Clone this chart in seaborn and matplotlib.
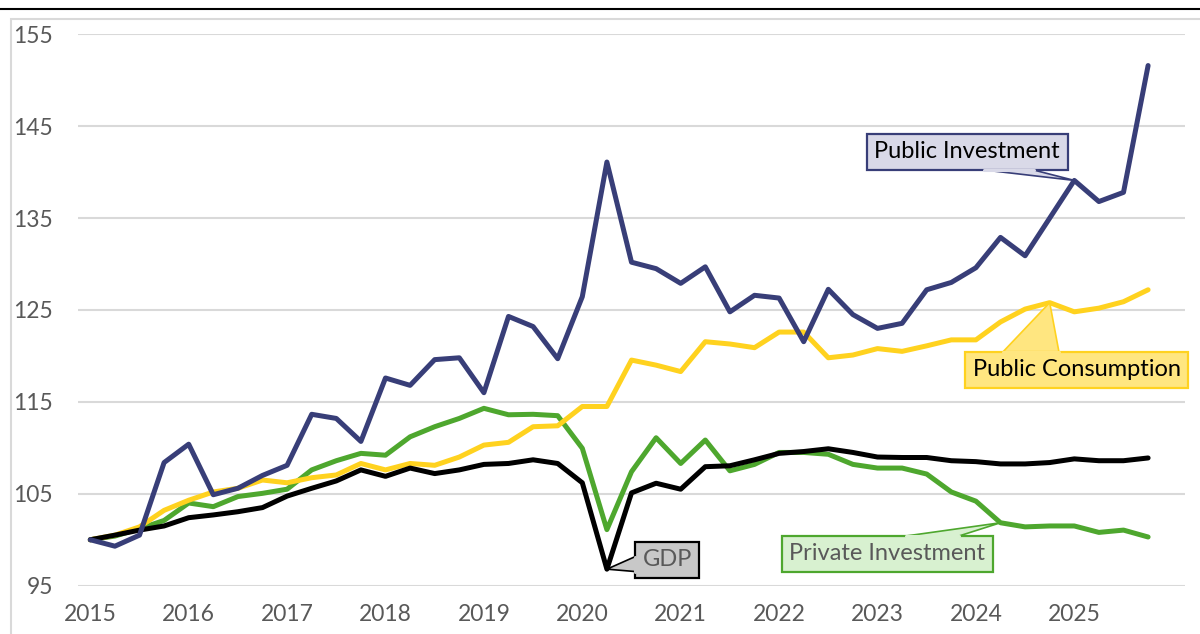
import matplotlib
matplotlib.use("Agg")
import matplotlib.pyplot as plt
from matplotlib import font_manager
from matplotlib.lines import Line2D
from matplotlib.patches import Rectangle, Polygon
from matplotlib.transforms import IdentityTransform
import numpy as np
import pandas as pd
import seaborn as sns

# ---------------- data (quarterly index, 2015Q1 = 100) ----------------
years = list(range(2015, 2026))
quarter_index = list(range(44))  # 2015Q1 .. 2025Q4

public_investment = [100.0, 99.3, 100.5, 108.4, 110.4, 104.9, 105.6, 107.0, 108.1, 113.65,
                     113.2, 110.7, 117.6, 116.8, 119.6, 119.8, 116.0, 124.3, 123.2, 119.7,
                     126.45, 141.1, 130.2, 129.5, 127.9, 129.7, 124.8, 126.6, 126.3, 121.55,
                     127.25, 124.5, 123.0, 123.55, 127.2, 128.0, 129.6, 132.9, 130.9, 135.0,
                     139.1, 136.8, 137.8, 151.6]
public_consumption = [100.0, 100.5, 101.4, 103.2, 104.3, 105.2, 105.6, 106.5, 106.2, 106.75,
                      107.05, 108.3, 107.6, 108.3, 108.1, 109.0, 110.3, 110.6, 112.3, 112.4,
                      114.5, 114.5, 119.55, 119.0, 118.3, 121.55, 121.3, 120.9, 122.6, 122.6,
                      119.8, 120.1, 120.8, 120.5, 121.1, 121.75, 121.75, 123.7, 125.1, 125.8,
                      124.8, 125.2, 125.9, 127.2]
gdp = [100.0, 100.5, 101.05, 101.5, 102.4, 102.7, 103.05, 103.5, 104.75, 105.6,
       106.4, 107.6, 106.9, 107.8, 107.2, 107.6, 108.2, 108.3, 108.7, 108.3,
       106.2, 96.8, 105.1, 106.15, 105.5, 107.95, 108.05, 108.7, 109.4, 109.6,
       109.9, 109.5, 109.0, 108.95, 108.95, 108.6, 108.5, 108.25, 108.25, 108.4,
       108.8, 108.6, 108.6, 108.9]
private_investment = [100.0, 100.4, 101.2, 102.1, 104.0, 103.6, 104.7, 105.05, 105.5, 107.6,
                      108.6, 109.4, 109.2, 111.2, 112.3, 113.2, 114.3, 113.6, 113.65, 113.5,
                      109.95, 101.1, 107.4, 111.1, 108.3, 110.85, 107.5, 108.2, 109.5, 109.5,
                      109.3, 108.2, 107.8, 107.8, 107.15, 105.2, 104.2, 101.85, 101.4, 101.5,
                      101.5, 100.8, 101.05, 100.3]

series_names = ["Private Investment", "Public Consumption", "GDP", "Public Investment"]
y_ticks = [95, 105, 115, 125, 135, 145, 155]

# ---------------- style ----------------
NAVY = "#383E78"
YELLOW = "#FFD21F"
GREEN = "#4EA72E"
BLACK = "#000000"
GREY_TXT = "#595959"
GRID = "#D9D9D9"

sns.set_theme(style="white")
available = {f.name for f in font_manager.fontManager.ttflist}
font = "DejaVu Sans"
for cand in ["Lato", "Open Sans"]:
    if cand in available:
        font = cand
        break
plt.rcParams["font.family"] = [font, "DejaVu Sans"]

df = pd.DataFrame({
    "t": quarter_index * 4,
    "value": private_investment + public_consumption + gdp + public_investment,
    "series": sum([[n] * len(quarter_index) for n in series_names], []),
})

fig = plt.figure(figsize=(12, 6.34), dpi=100)
ax = fig.add_axes([78 / 1200, 1 - 585.7 / 634, (1185 - 78) / 1200, (585.7 - 34.3) / 634])

sns.lineplot(data=df, x="t", y="value", hue="series", hue_order=series_names,
             palette={"Private Investment": GREEN, "Public Consumption": YELLOW,
                      "GDP": BLACK, "Public Investment": NAVY},
             linewidth=3.6, legend=False, ax=ax,
             solid_joinstyle="round", solid_capstyle="round")

ax.set_xlim(-0.5, 44.5)
ax.set_ylim(95, 155)
ax.set_yticks(y_ticks)
ax.set_xticks(range(0, 44, 4))
ax.set_xticklabels([str(y) for y in years])
ax.set_xlabel("")
ax.set_ylabel("")
for s in ax.spines.values():
    s.set_visible(False)
ax.grid(axis="y", color=GRID, linewidth=1.5)
ax.set_axisbelow(True)
ax.tick_params(axis="y", length=0, pad=18, labelsize=16.5, labelcolor=GREY_TXT)
ax.tick_params(axis="x", length=0, pad=13, labelsize=16.5, labelcolor=GREY_TXT)

# ---------------- callouts ----------------
callouts = []


def callout(text, xy, xytext, fc, ec, tc, side, base):
    t = ax.text(xytext[0], xytext[1], text, ha="center", va="center", fontsize=17,
                color=tc, zorder=11,
                bbox=dict(boxstyle="square,pad=0.32", fc=fc, ec=ec, lw=1.6))
    callouts.append((t, xy, fc, ec, side, base))


callout("Public Investment", (40, public_investment[40]), (35.65, 142.2),
        "#D9D9E8", NAVY, "black", "bottom", (0.585, 0.83))
callout("Public Consumption", (39, public_consumption[39]), (40.1, 118.5),
        "#FFE680", YELLOW, "black", "top", (0.17, 0.42))
callout("Private Investment", (37, private_investment[37]), (32.4, 98.45),
        "#D8F1D0", GREEN, GREY_TXT, "top", (0.59, 0.84))
callout("GDP", (21, gdp[21]), (23.45, 97.8),
        "#C8C8C8", BLACK, GREY_TXT, "left", (0.18, 0.59))

fig.canvas.draw()
for t, xy, fc, ec, side, (f0, f1) in callouts:
    bb = t.get_bbox_patch().get_window_extent()
    px, py = ax.transData.transform(xy)
    if side == "bottom":
        b1 = (bb.x0 + f0 * bb.width, bb.y0)
        b2 = (bb.x0 + f1 * bb.width, bb.y0)
    elif side == "top":
        b1 = (bb.x0 + f0 * bb.width, bb.y1)
        b2 = (bb.x0 + f1 * bb.width, bb.y1)
    else:
        b1 = (bb.x0, bb.y0 + f0 * bb.height)
        b2 = (bb.x0, bb.y0 + f1 * bb.height)
    poly = Polygon([b1, (px, py), b2], closed=True, fc=fc, ec=ec, lw=1.2,
                   transform=IdentityTransform(), zorder=10, joinstyle="miter")
    fig.add_artist(poly)
    # cover the base segment with the fill so the wedge opens into the box
    fig.add_artist(Line2D([b1[0], b2[0]], [b1[1], b2[1]], color=fc, lw=2.2,
                          transform=IdentityTransform(), zorder=12))

# ---------------- frame decorations ----------------
fig.add_artist(Line2D([0, 1], [1 - 9 / 634] * 2, color="black", lw=1.5,
                      transform=fig.transFigure))
fig.add_artist(Rectangle((11 / 1200, -0.05), 1.1, 1 - 19 / 634 + 0.05, fill=False,
                         ec=GRID, lw=1.5, transform=fig.transFigure))

fig.savefig("out.png", dpi=100)
